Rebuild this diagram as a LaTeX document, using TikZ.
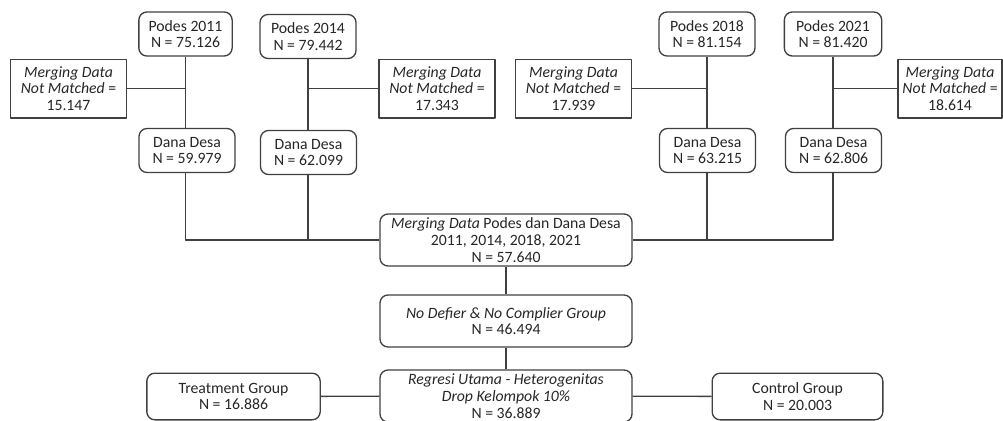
\documentclass[tikz,border=0pt]{standalone}
\usepackage{fontspec}
\setmainfont{Carlito}
\begin{document}
\begin{tikzpicture}[x=0.75pt, y=-0.75pt, font=\fontsize{11.8}{12.6}\selectfont, line join=round,
    box/.style={draw=black!75, line width=1pt, rounded corners=6pt, align=center, inner sep=1pt, text=black!85},
    miss/.style={draw=black!75, line width=1pt, align=center, inner sep=1pt, text=black!85, minimum width=87pt, minimum height=44pt},
    link/.style={draw=black!75, line width=1pt}]
    \useasboundingbox (0,0) rectangle (1003,421);
    % data podes
    \node[box, minimum width=70pt, minimum height=33pt] (p11) at (185.5,34) {Podes 2011\\N = 75.126};
    \node[box, minimum width=72pt, minimum height=33pt] (p14) at (308,36.5) {Podes 2014\\N = 79.442};
    \node[box, minimum width=72pt, minimum height=33pt] (p18) at (707,34) {Podes 2018\\N = 81.154};
    \node[box, minimum width=73pt, minimum height=33pt] (p21) at (833,34) {Podes 2021\\N = 81.420};
    % not matched
    \node[miss] (m11) at (68.5,88.5) {\textit{Merging Data}\\\textit{Not Matched} =\\15.147};
    \node[miss] (m14) at (437,88.5) {\textit{Merging Data}\\\textit{Not Matched} =\\17.343};
    \node[miss] (m18) at (573.5,88.5) {\textit{Merging Data}\\\textit{Not Matched} =\\17.939};
    \node[miss, minimum width=78pt] (m21) at (950,88.5) {\textit{Merging Data}\\\textit{Not Matched} =\\18.614};
    % dana desa
    \node[box, minimum width=72pt, minimum height=33pt] (d11) at (187,150.5) {Dana Desa\\N = 59.979};
    \node[box, minimum width=72pt, minimum height=33pt] (d14) at (308.5,152.5) {Dana Desa\\N = 62.099};
    \node[box, minimum width=72pt, minimum height=33pt] (d18) at (707.5,150.5) {Dana Desa\\N = 63.215};
    \node[box, minimum width=72pt, minimum height=33pt] (d21) at (833.5,150.5) {Dana Desa\\N = 62.806};
    % merging
    \node[box, minimum width=189pt, minimum height=39pt] (mg) at (506,240) {\textit{Merging Data} Podes dan Dana Desa\\2011, 2014, 2018, 2021\\N = 57.640};
    \node[box, minimum width=189pt, minimum height=39pt] (nd) at (506,321) {\textit{No Defier \& No Complier Group}\\N = 46.494};
    \node[box, minimum width=189pt, minimum height=39pt] (rg) at (506,396) {\textit{Regresi Utama - Heterogenitas}\\\textit{Drop Kelompok 10\%}\\N = 36.889};
    \node[box, minimum width=130pt, minimum height=35pt] (tg) at (233.5,396.5) {Treatment Group\\N = 16.886};
    \node[box, minimum width=128pt, minimum height=35pt] (cg) at (797.5,396.5) {Control Group\\N = 20.003};
    % connectors
    \draw[link] (p11) -- (p11 |- d11.north);
    \draw[link] (p14) -- (p14 |- d14.north);
    \draw[link] (p18) -- (p18 |- d18.north);
    \draw[link] (p21) -- (p21 |- d21.north);
    \draw[link] (m11) -- (m11 -| p11);
    \draw[link] (m14) -- (m14 -| p14);
    \draw[link] (m18) -- (m18 -| p18);
    \draw[link] (m21) -- (m21 -| p21);
    \draw[link] (d11.south -| p11) |- (mg.west);
    \draw[link] (d14.south -| p14) -- (p14 |- mg.west);
    \draw[link] (d21.south -| p21) |- (mg.east);
    \draw[link] (d18.south -| p18) -- (p18 |- mg.east);
    \draw[link] (mg) -- (nd);
    \draw[link] (nd) -- (rg);
    \draw[link] (tg) -- (rg);
    \draw[link] (rg) -- (cg);
\end{tikzpicture}
\end{document}
